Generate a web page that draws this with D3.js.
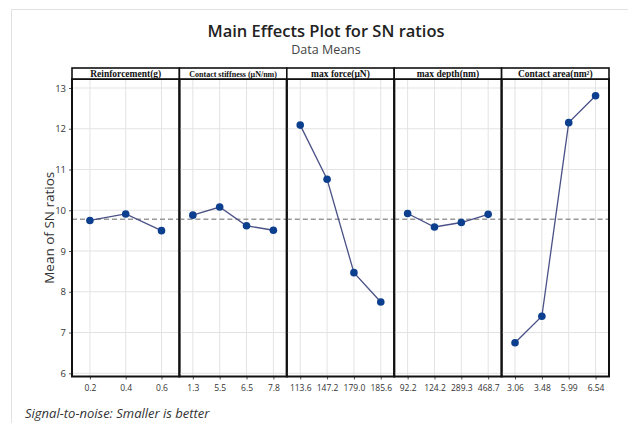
<!DOCTYPE html>
<html>
<head>
<meta charset="utf-8">
<script src="https://cdn.jsdelivr.net/npm/d3@7"></script>
<style>
  body { margin: 0; background: #fff; }
  svg { display: block; }
</style>
</head>
<body>
<div id="chart"></div>
<script>
// factors, their levels and mean SN ratios
const factors = ["Reinforcement(g)", "Contact stiffness (\u03bcN/nm)", "max force(\u03bcN)", "max depth(nm)", "Contact area(nm\u00b2)"];
const levels = [
  ["0.2", "0.4", "0.6"],
  ["1.3", "5.5", "6.5", "7.8"],
  ["113.6", "147.2", "179.0", "185.6"],
  ["92.2", "124.2", "289.3", "468.7"],
  ["3.06", "3.48", "5.99", "6.54"]
];
const means = [
  [9.75, 9.91, 9.50],
  [9.88, 10.08, 9.62, 9.51],
  [12.09, 10.76, 8.47, 7.75],
  [9.92, 9.59, 9.70, 9.90],
  [6.75, 7.40, 12.15, 12.81]
];
const grandMean = 9.78;
const yTicks = [6, 7, 8, 9, 10, 11, 12, 13];

const width = 628, height = 423;
const left = 72, right = 609, headTop = 68, headBottom = 79, bottom = 376.5;

const svg = d3.select("#chart").append("svg")
  .attr("width", width)
  .attr("height", height);

// faint frame of the original graph window
svg.append("path")
  .attr("d", `M${width},9.5 H11.5 V${height}`)
  .attr("fill", "none")
  .attr("stroke", "#e2e2e2");

svg.append("text")
  .attr("x", 326).attr("y", 37)
  .attr("text-anchor", "middle")
  .attr("font-family", "'Open Sans', 'Noto Sans', sans-serif")
  .attr("font-size", 16.5)
  .attr("font-weight", 600)
  .attr("fill", "#222")
  .text("Main Effects Plot for SN ratios");

svg.append("text")
  .attr("x", 326).attr("y", 54)
  .attr("text-anchor", "middle")
  .attr("font-family", "'Open Sans', 'Noto Sans', sans-serif")
  .attr("font-size", 12.5)
  .attr("fill", "#444")
  .text("Data Means");

const y = d3.scaleLinear().domain([6, 13]).range([373.3, 88]);

const panelX = d3.scaleBand().domain(factors).range([left, right]).padding(0);

// y axis
const yAxis = svg.append("g")
  .attr("transform", `translate(${left},0)`)
  .call(d3.axisLeft(y).tickValues(yTicks).tickSize(3).tickFormat(d3.format("d")));
yAxis.select(".domain").remove();
yAxis.selectAll("line").attr("stroke", "#555");
yAxis.selectAll("text")
  .attr("font-family", "'Open Sans', 'Noto Sans', sans-serif")
  .attr("font-size", 9.5)
  .attr("fill", "#333");

svg.append("text")
  .attr("transform", `translate(54,${(headBottom + bottom) / 2}) rotate(-90)`)
  .attr("text-anchor", "middle")
  .attr("font-family", "'Open Sans', 'Noto Sans', sans-serif")
  .attr("font-size", 13.5)
  .attr("fill", "#333")
  .text("Mean of SN ratios");

factors.forEach((f, i) => {
  const x0 = panelX(f), w = panelX.bandwidth();
  const x = d3.scalePoint().domain(levels[i]).range([x0, x0 + w]).padding(0.5);
  const g = svg.append("g");

  // grid
  g.selectAll("line.hg").data(yTicks).enter().append("line")
    .attr("x1", x0).attr("x2", x0 + w)
    .attr("y1", d => y(d)).attr("y2", d => y(d))
    .attr("stroke", "#e3e3e3").attr("stroke-width", 1);
  g.selectAll("line.vg").data(levels[i]).enter().append("line")
    .attr("x1", d => x(d)).attr("x2", d => x(d))
    .attr("y1", headBottom).attr("y2", bottom)
    .attr("stroke", "#e3e3e3").attr("stroke-width", 1);

  // reference line at grand mean
  g.append("line")
    .attr("x1", x0).attr("x2", x0 + w)
    .attr("y1", y(grandMean)).attr("y2", y(grandMean))
    .attr("stroke", "#999").attr("stroke-width", 1.3)
    .attr("stroke-dasharray", "5,3");

  // x axis
  const xa = g.append("g")
    .attr("transform", `translate(0,${bottom})`)
    .call(d3.axisBottom(x).tickSize(3));
  xa.select(".domain").remove();
  xa.selectAll("line").attr("stroke", "#555");
  xa.selectAll("text")
    .attr("font-family", "'Open Sans', 'Noto Sans', sans-serif")
    .attr("font-size", 8.5)
    .attr("fill", "#333")
    .attr("dy", "1.05em");

  const pts = levels[i].map((l, j) => ({ l, v: means[i][j] }));
  g.append("path")
    .datum(pts)
    .attr("fill", "none")
    .attr("stroke", "#4a5186")
    .attr("stroke-width", 1.3)
    .attr("d", d3.line().x(d => x(d.l)).y(d => y(d.v)));
  g.selectAll("circle").data(pts).enter().append("circle")
    .attr("cx", d => x(d.l)).attr("cy", d => y(d.v))
    .attr("r", 3.8)
    .attr("fill", "#0d3f8f");

  // panel frame and header
  g.append("rect")
    .attr("x", x0).attr("y", headBottom)
    .attr("width", w).attr("height", bottom - headBottom)
    .attr("fill", "none").attr("stroke", "#111").attr("stroke-width", 2);
  g.append("rect")
    .attr("x", x0).attr("y", headTop)
    .attr("width", w).attr("height", headBottom - headTop)
    .attr("fill", "#fff").attr("stroke", "#111").attr("stroke-width", 1.6);
  g.append("text")
    .attr("x", x0 + w / 2).attr("y", headBottom - 2.5)
    .attr("text-anchor", "middle")
    .attr("font-family", "'Liberation Serif', 'DejaVu Serif', serif")
    .attr("font-size", i === 1 ? 8 : 9.5)
    .attr("font-weight", "bold")
    .attr("fill", "#111")
    .text(f);
});

svg.append("text")
  .attr("x", 25).attr("y", 418)
  .attr("font-family", "'Open Sans', 'Noto Sans', sans-serif")
  .attr("font-size", 13)
  .attr("font-style", "italic")
  .attr("fill", "#333")
  .text("Signal-to-noise: Smaller is better");
</script>
</body>
</html>
